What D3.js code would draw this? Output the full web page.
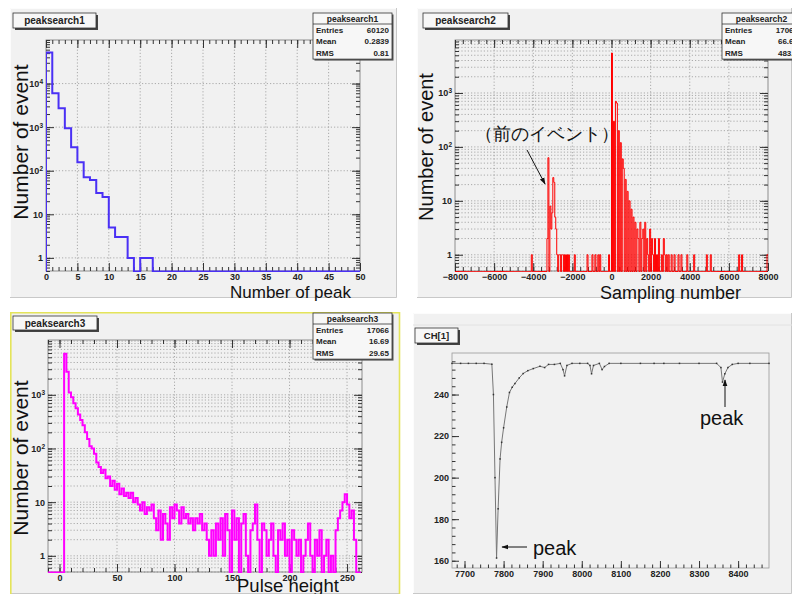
<!DOCTYPE html>
<html><head><meta charset="utf-8">
<script src="https://cdn.jsdelivr.net/npm/d3@7"></script>
<style>
body{margin:0;background:#fff}
svg{display:block}
text{font-family:"Liberation Sans",Arial,sans-serif}
.tk text{font-weight:bold;font-size:9px;fill:#222}
.tk line{stroke:#333}
.tk path{display:none}
</style>
</head><body>
<svg id="c" width="792" height="594"></svg>
<script>
// ---- peaksearch1 : number of peaks found per event (bin width 1) ----
const nPeakCounts = [52000, 6000, 2700, 940, 345, 157, 71, 61, 31, 25,
  5, 3, 3, 1, 0, 1, 1, 0, 0, 0,
  0, 0, 0, 0, 0, 0, 0, 0, 0, 0,
  0, 0, 0, 0, 0, 0, 0, 0, 0, 0,
  0, 0, 0, 0, 0, 0, 0, 0, 0, 0];
const nPeakStats = [["Entries", "60120"], ["Mean", "0.2839"], ["RMS", "0.81"]];

// ---- peaksearch2 : peak sampling position (non-empty bins only, width 50) ----
const posBinLow = [-4100, -3300, -3250, -3150, -3100, -3050, -3000, -2950, -2900, -2850,
  -2800, -2700, -2650, -2550, -2500, -2400, -2300, -2200, -1900, -1250,
  -1000, -850, -700, -600, -150,
  0, 100, 200, 250, 350, 450, 550, 600, 700, 800,
  900, 1000, 1100, 1200, 1300, 1350, 1450, 1550, 1600, 1700,
  1800, 1850, 1950, 2050, 2100, 2200, 2300, 2400, 2550, 2650,
  2700, 2800, 2900, 3050, 3200, 3400, 3550, 3850, 4200, 4850,
  5050, 6500, 6650, 7950];
const posCounts = [1, 2, 63, 8, 3, 6, 27, 22, 5, 3,
  1, 1, 1, 1, 1, 1, 1, 1, 1, 1,
  1, 1, 1, 1, 1,
  5500, 300, 700, 650, 200, 120, 60, 40, 25, 15,
  10, 7, 5, 4, 3, 2, 4, 2, 3, 4,
  2, 1, 3, 2, 1, 2, 1, 2, 1, 2,
  1, 1, 1, 1, 1, 1, 1, 1, 1, 1,
  1, 1, 1, 1];
const posStats = [["Entries", "17066"], ["Mean", "66.68"], ["RMS", "483.6"]];

// ---- peaksearch3 : pulse height of found peaks (bins of 2, first bin at 4) ----
const phCounts = [5800, 2700, 1100, 900, 700, 560, 430, 340, 270, 200,
  150, 110, 100, 80, 55, 45, 35, 40, 28, 30,
  20, 25, 17, 22, 14, 18, 13, 15, 12, 15,
  10, 12, 9, 7, 10, 6, 8, 7, 9, 5,
  3, 7, 2, 6, 4, 2, 8, 5, 9, 7,
  4, 8, 5, 6, 4, 5, 3, 5, 4, 6,
  3, 4, 2, 1, 3, 1, 4, 2, 5, 1,
  6, 3, 0, 7, 2, 5, 0, 4, 6, 1,
  0, 3, 4, 9, 2, 0, 4, 3, 1, 2,
  4, 1, 0, 3, 2, 4, 1, 2, 0, 3,
  2, 1, 2, 0, 1, 2, 4, 1, 0, 2,
  1, 3, 0, 1, 2, 0, 1, 0, 3, 5,
  7, 10, 14, 9, 5, 7, 2, 0];
const phStats = [["Entries", "17066"], ["Mean", "16.69"], ["RMS", "29.65"]];

// ---- CH[1] : one recorded waveform (ADC counts vs sample) ----
const waveT = [7668, 7690, 7710, 7730, 7750, 7770, 7774, 7778, 7782, 7786,
  7791, 7795, 7800, 7808, 7815, 7822, 7829, 7840, 7850, 7862,
  7876, 7893, 7905, 7915, 7930, 7945, 7952, 7956, 7962, 7975,
  7995, 8015, 8021, 8025, 8030, 8045, 8052, 8058, 8070, 8100,
  8150, 8185, 8210, 8250, 8300, 8345, 8356, 8360, 8366, 8374,
  8385, 8400, 8430, 8479];
const waveV = [255, 255, 255, 255, 255, 254.6, 240, 200, 161.3, 185,
  209, 217, 224, 234, 241, 243.5, 245.3, 248, 250.1, 251.5,
  252.5, 253.6, 253, 254.5, 254.5, 255, 252, 249, 254, 255,
  255, 255, 254, 250, 254, 255, 252, 253.5, 255, 255,
  255, 255, 255, 255, 255, 255, 253, 246, 250, 253,
  254.5, 255, 255, 255];

const svg = d3.select('#c');
const defs = svg.append('defs');
defs.append('marker').attr('id', 'ah').attr('viewBox', '0 0 10 10')
  .attr('refX', 9).attr('refY', 5).attr('markerWidth', 7).attr('markerHeight', 7)
  .attr('orient', 'auto').append('path').attr('d', 'M0,1.5 L10,5 L0,8.5 z').attr('fill', '#111');

function drawPad(x0, y0, x1, y1) {
  const g = svg.append('g');
  g.append('rect').attr('x', x0).attr('y', y0).attr('width', x1 - x0).attr('height', y1 - y0).attr('fill', '#f1f1f1');
  g.append('path').attr('d', `M${x0 + .5},${y1}V${y0 + .5}H${x1}`).attr('stroke', '#fcfcfc').attr('fill', 'none');
  g.append('path').attr('d', `M${x0},${y1 - .5}H${x1 - .5}V${y0}`).attr('stroke', '#c8c8c8').attr('fill', 'none');
  return g;
}

function titleBox(g, x, y, w, h, label, fs) {
  g.append('rect').attr('x', x + 2).attr('y', y + 2).attr('width', w).attr('height', h).attr('fill', '#444');
  g.append('rect').attr('x', x).attr('y', y).attr('width', w).attr('height', h)
    .attr('fill', '#f7f7f7').attr('stroke', '#333').attr('stroke-width', 0.8);
  g.append('text').attr('x', x + w / 2).attr('y', y + h / 2 + fs * 0.36).attr('text-anchor', 'middle')
    .attr('font-weight', 'bold').attr('font-size', fs).attr('fill', '#222').text(label);
}

function statsBox(g, x, y, w, name, rows) {
  const rh = 11.7, hh = 11, h = hh + rows.length * rh;
  g.append('rect').attr('x', x + 1.5).attr('y', y + 1.5).attr('width', w).attr('height', h).attr('fill', '#555');
  g.append('rect').attr('x', x).attr('y', y).attr('width', w).attr('height', h)
    .attr('fill', '#f7f7f7').attr('stroke', '#333').attr('stroke-width', 0.8);
  g.append('line').attr('x1', x).attr('x2', x + w).attr('y1', y + hh).attr('y2', y + hh).attr('stroke', '#333').attr('stroke-width', 0.8);
  g.append('text').attr('x', x + w / 2).attr('y', y + 8.6).attr('text-anchor', 'middle')
    .attr('font-weight', 'bold').attr('font-size', 8.5).attr('fill', '#222').text(name);
  rows.forEach((r, i) => {
    const yy = y + hh + rh * i + 8.6;
    g.append('text').attr('x', x + 3).attr('y', yy).attr('font-weight', 'bold').attr('font-size', 8).attr('fill', '#222').text(r[0]);
    g.append('text').attr('x', x + w - 3).attr('y', yy).attr('text-anchor', 'end').attr('font-weight', 'bold').attr('font-size', 8).attr('fill', '#222').text(r[1]);
  });
}

let clipN = 0;
function clipFor(x, y) {
  const id = 'clip' + (clipN++);
  const [a, b] = x.range(), [c, d] = y.range();
  defs.append('clipPath').attr('id', id).append('rect').attr('x', a).attr('y', d - 1).attr('width', b - a).attr('height', c - d + 2);
  return `url(#${id})`;
}

function logMinor(dom) {
  const out = [];
  for (let k = Math.floor(Math.log10(dom[0])); k <= Math.ceil(Math.log10(dom[1])); k++)
    for (let m = 1; m <= 9; m++) {
      const v = m * Math.pow(10, k);
      if (v >= dom[0] && v <= dom[1]) out.push(v);
    }
  return out;
}

function supLabels(sel) {
  sel.selectAll('.tick text').each(function (d) {
    const t = d3.select(this);
    t.text(null);
    if (d < 100) { t.text(d3.format('d')(d)); return; }
    t.append('tspan').text('10');
    t.append('tspan').attr('dy', '-0.45em').attr('font-size', '6.5px').text(Math.round(Math.log10(d)));
  });
}

// A ROOT-style frame: grid, ticks on all four sides, labels bottom/left
function rootFrame(g, x, y, o) {
  const [x0, x1] = x.range(), [y0, y1] = y.range();
  const gridStyle = s => s.attr('stroke', '#8c8c8c').attr('stroke-width', 0.7).attr('stroke-dasharray', '1.2,2');
  const grid = g.append('g');
  grid.selectAll('.gv').data(o.xGrid).join('line').attr('x1', d => x(d)).attr('x2', d => x(d))
    .attr('y1', y1).attr('y2', y0).call(gridStyle);
  grid.selectAll('.gh').data(o.yGrid).join('line').attr('y1', d => y(d)).attr('y2', d => y(d))
    .attr('x1', x0).attr('x2', x1).call(gridStyle);
  g.append('rect').attr('x', x0).attr('y', y1).attr('width', x1 - x0).attr('height', y0 - y1)
    .attr('fill', 'none').attr('stroke', '#777').attr('stroke-width', 0.8);
  const T = o.tick || 8;
  g.append('g').attr('class', 'tk').attr('transform', `translate(0,${y0})`)
    .call(d3.axisBottom(x).tickValues(o.xMajor).tickSize(-T).tickPadding(3).tickFormat(o.xFmt || d3.format('d')));
  g.append('g').attr('class', 'tk').attr('transform', `translate(0,${y0})`)
    .call(d3.axisBottom(x).tickValues(o.xMinor).tickSize(-T / 2).tickFormat(''));
  g.append('g').attr('class', 'tk').attr('transform', `translate(0,${y1})`)
    .call(d3.axisTop(x).tickValues(o.xMajor).tickSize(-T).tickFormat(''));
  g.append('g').attr('class', 'tk').attr('transform', `translate(0,${y1})`)
    .call(d3.axisTop(x).tickValues(o.xMinor).tickSize(-T / 2).tickFormat(''));
  const left = g.append('g').attr('class', 'tk').attr('transform', `translate(${x0},0)`)
    .call(d3.axisLeft(y).tickValues(o.yMajor).tickSize(-T).tickPadding(2).tickFormat(d3.format('d')));
  g.append('g').attr('class', 'tk').attr('transform', `translate(${x0},0)`)
    .call(d3.axisLeft(y).tickValues(o.yMinor).tickSize(-T / 2).tickFormat(''));
  g.append('g').attr('class', 'tk').attr('transform', `translate(${x1},0)`)
    .call(d3.axisRight(y).tickValues(o.yMajor).tickSize(-T).tickFormat(''));
  g.append('g').attr('class', 'tk').attr('transform', `translate(${x1},0)`)
    .call(d3.axisRight(y).tickValues(o.yMinor).tickSize(-T / 2).tickFormat(''));
  if (o.sup) supLabels(left);
  left.selectAll('.tick text').attr('dx', '-1');
}

// step outline of a histogram; empty bins sit on the lower frame edge
function histPath(g, x, y, lows, width, counts, color, lw) {
  const base = y.range()[0] + 0.5;
  const yv = c => c > 0 ? y(c) : base;
  let d = `M${x(lows[0])},${base}`;
  lows.forEach((lo, i) => {
    d += `V${yv(counts[i])}H${x(lo + width)}`;
  });
  g.append('path').attr('d', d).attr('fill', 'none').attr('stroke', color)
    .attr('stroke-width', lw).attr('clip-path', clipFor(x, y));
}

function axisTitleY(g, cx, cy, fs, label) {
  g.append('text').attr('transform', `translate(${cx},${cy}) rotate(-90)`).attr('text-anchor', 'middle')
    .attr('font-family', 'DejaVu Sans').attr('font-size', fs).attr('fill', '#111').text(label);
}
function axisTitleX(g, x, yb, fs, label) {
  g.append('text').attr('x', x).attr('y', yb).attr('font-family', 'DejaVu Sans')
    .attr('font-size', fs).attr('fill', '#111').text(label);
}

// ================= panel 1 =================
{
  const g = drawPad(10, 8, 397, 298);
  const x = d3.scaleLinear().domain([0, 50]).range([46, 360]);
  const y = d3.scaleLog().domain([0.5, 1e5]).range([271, 40]);
  rootFrame(g, x, y, {
    xMajor: d3.range(0, 51, 5), xMinor: d3.range(0, 51, 1), xGrid: d3.range(5, 50, 5),
    yMajor: [1, 10, 100, 1000, 10000], yMinor: logMinor([0.5, 1e5]), yGrid: [1, 10, 100, 1000, 10000], sup: true
  });
  histPath(g, x, y, d3.range(0, 50), 1, nPeakCounts, '#4a30f5', 2);
  titleBox(g, 13, 13, 83, 15, 'peaksearch1', 10);
  statsBox(g, 313, 13, 79, 'peaksearch1', nPeakStats);
  axisTitleY(g, 28, 142, 21, 'Number of event');
  axisTitleX(g, 230, 298, 17, 'Number of peak');
}

// ================= panel 2 =================
{
  const g = drawPad(417, 8, 792, 298);
  const x = d3.scaleLinear().domain([-8000, 8000]).range([455, 768]);
  const y = d3.scaleLog().domain([0.5, 9600]).range([271, 40]);
  rootFrame(g, x, y, {
    xMajor: d3.range(-8000, 8001, 2000), xMinor: d3.range(-8000, 8001, 400), xGrid: d3.range(-6000, 8000, 2000),
    yMajor: [1, 10, 100, 1000], yMinor: logMinor([0.5, 9600]), yGrid: logMinor([0.5, 9600]), sup: true
  });
  // expand the non-empty bins onto the full binning
  const lows = d3.range(-8000, 8000, 50);
  const byLow = new Map(posBinLow.map((lo, i) => [lo, posCounts[i]]));
  histPath(g, x, y, lows, 50, lows.map(lo => byLow.get(lo) || 0), '#ff0000', 1);
  titleBox(g, 423, 13, 85, 15, 'peaksearch2', 10);
  statsBox(g, 722, 13, 79, 'peaksearch2', posStats);
  axisTitleY(g, 433, 147, 20, 'Number of event');
  g.append('text').attr('x', 547).attr('y', 140).attr('text-anchor', 'middle')
    .attr('font-family', 'Noto Sans CJK JP').attr('font-size', 18).attr('fill', '#111').text('（前のイベント）');
  g.append('line').attr('x1', 527).attr('y1', 150).attr('x2', 545).attr('y2', 184)
    .attr('stroke', '#111').attr('stroke-width', 1).attr('marker-end', 'url(#ah)');
  axisTitleX(g, 600, 299, 18, 'Sampling number');
}

// ================= panel 3 =================
{
  const g = drawPad(10, 312, 400, 594);
  g.append('path').attr('d', 'M10.8,594V312.8H399.5V594').attr('fill', 'none').attr('stroke', '#e4e45a').attr('stroke-width', 1.6);
  const x = d3.scaleLinear().domain([-10, 263]).range([48, 362]);
  const y = d3.scaleLog().domain([0.5, 10500]).range([572, 340]);
  rootFrame(g, x, y, {
    xMajor: d3.range(0, 251, 50), xMinor: d3.range(-10, 263, 10), xGrid: d3.range(50, 251, 50),
    yMajor: [1, 10, 100, 1000], yMinor: logMinor([0.5, 10500]), yGrid: logMinor([0.5, 10500]), sup: true
  });
  const lows = d3.range(-10, 262, 2);
  const first = 4;
  histPath(g, x, y, lows, 2, lows.map(lo => lo >= first ? (phCounts[(lo - first) / 2] || 0) : 0), '#ff00ff', 2);
  titleBox(g, 13, 316, 84, 14, 'peaksearch3', 10);
  statsBox(g, 313, 313, 79, 'peaksearch3', phStats);
  axisTitleY(g, 28, 458, 21, 'Number of event');
  axisTitleX(g, 237, 592, 18.5, 'Pulse height');
}

// ================= panel 4 =================
{
  const g = drawPad(413, 313, 792, 594);
  g.append('line').attr('x1', 413).attr('x2', 792).attr('y1', 325).attr('y2', 325).attr('stroke', '#e2e2e2');
  const x = d3.scaleLinear().domain([7668, 8479]).range([452, 769]);
  const y = d3.scaleLinear().domain([156.5, 260]).range([568, 353]);
  g.append('rect').attr('x', 452).attr('y', 353).attr('width', 317).attr('height', 215)
    .attr('fill', 'none').attr('stroke', '#999').attr('stroke-width', 0.8);
  g.append('g').attr('class', 'tk').attr('transform', 'translate(0,568)')
    .call(d3.axisBottom(x).tickValues(d3.range(7700, 8401, 100)).tickSize(-7).tickPadding(3).tickFormat(d3.format('d')));
  g.append('g').attr('class', 'tk').attr('transform', 'translate(0,568)')
    .call(d3.axisBottom(x).tickValues(d3.range(7680, 8479, 20)).tickSize(-3.5).tickFormat(''));
  g.append('g').attr('class', 'tk').attr('transform', 'translate(452,0)')
    .call(d3.axisLeft(y).tickValues(d3.range(160, 241, 20)).tickSize(-7).tickPadding(3).tickFormat(d3.format('d')));
  g.append('g').attr('class', 'tk').attr('transform', 'translate(452,0)')
    .call(d3.axisLeft(y).tickValues(d3.range(160, 260, 4)).tickSize(-3.5).tickFormat(''));
  g.selectAll('.tk line').attr('stroke', '#777');
  const line = d3.line().x((d, i) => x(waveT[i])).y(d => y(d));
  g.append('path').attr('d', line(waveV)).attr('fill', 'none').attr('stroke', '#777').attr('stroke-width', 1)
    .attr('clip-path', clipFor(x, y));
  g.selectAll('.mk').data(waveV).join('rect')
    .attr('x', (d, i) => x(waveT[i]) - 0.75).attr('y', d => y(d) - 0.75).attr('width', 1.5).attr('height', 1.5).attr('fill', '#333');
  titleBox(g, 415, 328, 43, 15, 'CH[1]', 9.5);
  g.append('line').attr('x1', 527).attr('y1', 547).attr('x2', 502).attr('y2', 547)
    .attr('stroke', '#111').attr('stroke-width', 1).attr('marker-end', 'url(#ah)');
  g.append('text').attr('x', 533).attr('y', 555).attr('font-family', 'DejaVu Sans').attr('font-size', 20).attr('fill', '#111').text('peak');
  g.append('line').attr('x1', 725).attr('y1', 407).attr('x2', 725).attr('y2', 380)
    .attr('stroke', '#111').attr('stroke-width', 1).attr('marker-end', 'url(#ah)');
  g.append('text').attr('x', 700).attr('y', 425).attr('font-family', 'DejaVu Sans').attr('font-size', 20).attr('fill', '#111').text('peak');
}
</script>
</body></html>
